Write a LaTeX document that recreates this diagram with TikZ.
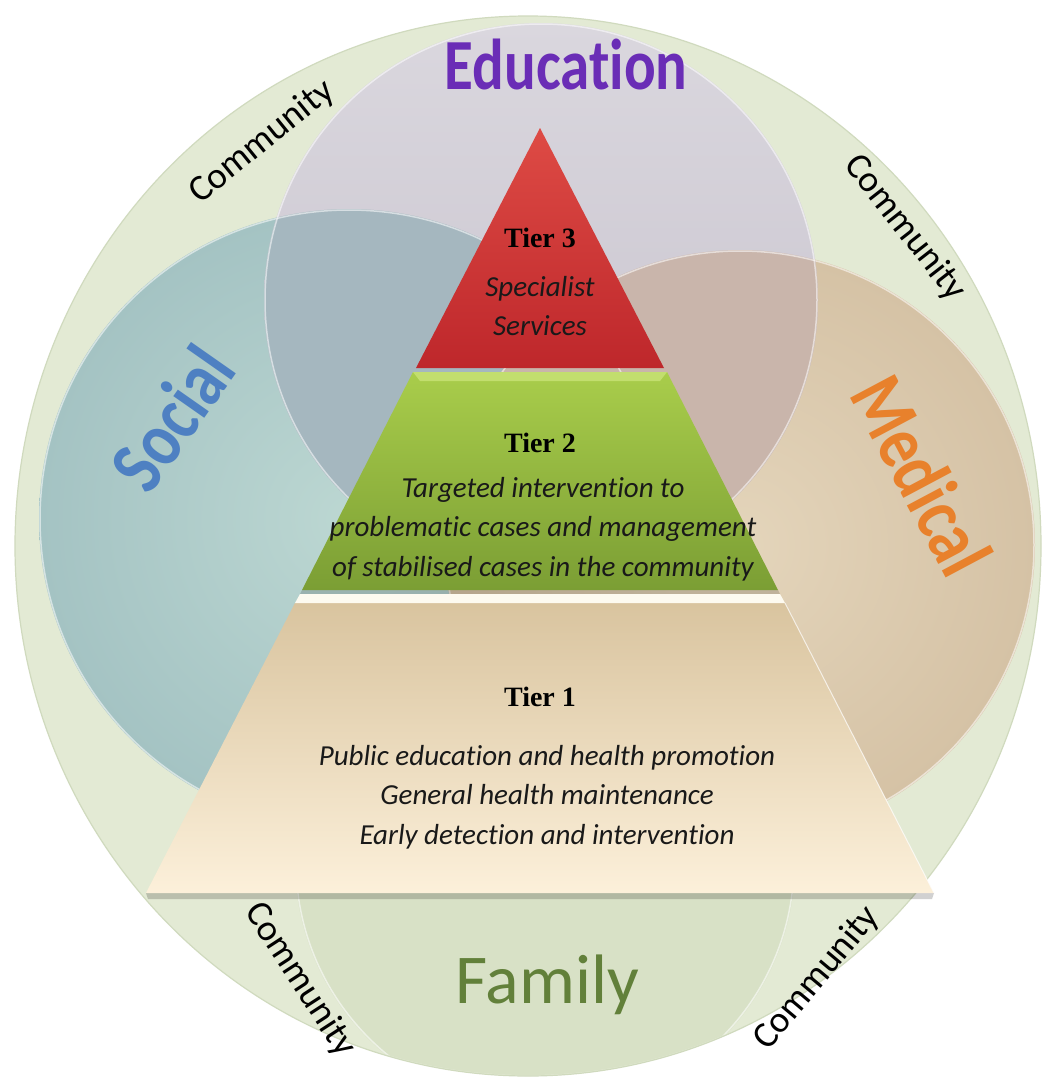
\documentclass[tikz,border=0pt]{standalone}
\usepackage{fontspec}
\setmainfont{Carlito}[Ligatures=NoCommon]
\newfontfamily\tierfont{Liberation Serif}
\newfontfamily\bigfont{Carlito}[FakeStretch=0.82,Ligatures=NoCommon]
\definecolor{ringc}{HTML}{E3EAD4}
\definecolor{ringedge}{HTML}{D0DABE}
\definecolor{famc}{HTML}{D8E1C6}
\definecolor{socin}{HTML}{BCD7D2}
\definecolor{socout}{HTML}{A4C3C3}
\definecolor{medin}{HTML}{E4D5BB}
\definecolor{medout}{HTML}{D5C2A5}
\definecolor{eduTop}{HTML}{DAD7DE}
\definecolor{eduBot}{HTML}{C5C0CB}
\definecolor{lensSE}{HTML}{A5B7BF}
\definecolor{lensME}{HTML}{C9B5AB}
\definecolor{t3top}{HTML}{DE4B45}
\definecolor{t3bot}{HTML}{BE272B}
\definecolor{t2top}{HTML}{A9CD4B}
\definecolor{t2bot}{HTML}{7B9E34}
\definecolor{t2bevel}{HTML}{C2DE6E}
\definecolor{t1top}{HTML}{D9C49F}
\definecolor{t1mid}{HTML}{F4E9D2}
\definecolor{t1bot}{HTML}{FCF0DA}
\definecolor{sepc}{HTML}{FDFAF0}
\definecolor{educ}{HTML}{6A2DB6}
\definecolor{socc}{HTML}{4E80C2}
\definecolor{medc}{HTML}{E8812C}
\definecolor{famtxt}{HTML}{62803A}
\begin{document}
\begin{tikzpicture}[x=1pt,y=-1pt,
  tierlbl/.style={font=\tierfont\bfseries\fontsize{28}{31}\selectfont, text=black, inner sep=0pt},
  bodytxt/.style={font=\itshape\fontsize{29}{39.5}\selectfont, align=center, inner sep=0pt, text=black!90},
  comm/.style={font=\fontsize{37}{40}\selectfont, inner sep=0pt, text=black},
  bigword/.style={font=\bigfont\bfseries\fontsize{78}{80}\selectfont, inner sep=0pt},
  rim/.style={draw=white, draw opacity=0.55, line width=1.5pt}]
\useasboundingbox (0,0) rectangle (1046,1080);
\fill[white] (0,0) rectangle (1046,1080);

\coordinate (cOut) at (528,546);
\coordinate (cEdu) at (541,300);
\coordinate (cSoc) at (349,519);
\coordinate (cMed) at (740,545);
\coordinate (cFam) at (545,862);

% outer community ring
\fill[ringc] (cOut) ellipse[x radius=513pt, y radius=530pt];
\draw[ringedge, line width=1.2pt] (cOut) ellipse[x radius=513pt, y radius=530pt];

% family
\begin{scope}
  \clip (cOut) ellipse[x radius=512pt, y radius=529pt];
  \fill[famc] (cFam) circle[radius=250pt];
  \draw[rim] (cFam) circle[radius=249pt];
\end{scope}

% social, medical, education
\shade[inner color=socin, outer color=socout] (cSoc) circle[radius=310pt];
\draw[rim] (cSoc) circle[radius=309pt];
\shade[inner color=medin, outer color=medout] (cMed) circle[radius=295pt];
\draw[rim] (cMed) circle[radius=294pt];
\shade[top color=eduTop, bottom color=eduBot] (cEdu) circle[radius=277pt];
\begin{scope}
  \clip (cEdu) circle[radius=277pt];
  \fill[lensSE] (cSoc) circle[radius=310pt];
  \fill[lensME] (cMed) circle[radius=295pt];
  \draw[rim] (cSoc) circle[radius=309pt];
  \draw[rim] (cMed) circle[radius=294pt];
\end{scope}
\draw[rim] (cEdu) circle[radius=276pt];

% pyramid
\coordinate (apex) at (540,128);
\coordinate (t3l) at (416,368);
\coordinate (t3r) at (664,368);
\coordinate (t2tl) at (413,372);
\coordinate (t2tr) at (667,372);
\coordinate (t2bl) at (302,590);
\coordinate (t2br) at (778,590);
\coordinate (t1tl) at (295,603);
\coordinate (t1tr) at (785,603);
\coordinate (t1bl) at (146,893);
\coordinate (t1br) at (934,893);

\fill[black, opacity=0.18] (t1bl) -- (t1br) -- (932,899) -- (148,899) -- cycle;
\shade[top color=t1top, middle color=t1mid, bottom color=t1bot] (t1tl) -- (t1tr) -- (t1br) -- (t1bl) -- cycle;
\draw[white, opacity=0.7, line width=1pt] (t1tr) -- (t1br);

\fill[black, opacity=0.15] (t2bl) -- (t2br) -- (780,594) -- (300,594) -- cycle;
\fill[sepc] (300,594) -- (780,594) -- (t1tr) -- (t1tl) -- cycle;

\shade[top color=t2top, bottom color=t2bot] (t2tl) -- (t2tr) -- (t2br) -- (t2bl) -- cycle;
\fill[t2bevel] (t2tl) -- (t2tr) -- (660,381) -- (420,381) -- cycle;

\shade[top color=t3top, bottom color=t3bot] (apex) -- (t3r) -- (t3l) -- cycle;

% tier texts
\node[tierlbl] (tier3) at (540,238) {Tier 3};
\node[bodytxt] (tier3txt) at (540,306) {Specialist\\Services};
\node[tierlbl] (tier2) at (540,443) {Tier 2};
\node[bodytxt] (tier2txt) at (543,529) {Targeted intervention to\\problematic cases and management\\of stabilised cases in the community};
\node[tierlbl] (tier1) at (540,697) {Tier 1};
\node[bodytxt] (tier1txt) at (547,797) {Public education and health promotion\\General health maintenance\\Early detection and intervention};

% big words
\node[bigword, text=educ, font=\bigfont\bfseries\fontsize{72}{74}\selectfont] (edu) at (566,64) {Education};
\node[bigword, text=socc, rotate=55] (soc) at (172,418) {Social};
\node[bigword, text=medc, rotate=-62] (med) at (922,475) {Medical};
\node[inner sep=0pt, text=famtxt, font=\fontsize{70}{72}\selectfont] (fam) at (547,985) {Family};

% community labels
\node[comm, rotate=39] (com1) at (262,142) {Community};
\node[comm, rotate=-52] (com2) at (905,228) {Community};
\node[comm, rotate=-57] (com3) at (300,980) {Community};
\node[comm, rotate=50] (com4) at (817,978) {Community};
\end{tikzpicture}
\end{document}
